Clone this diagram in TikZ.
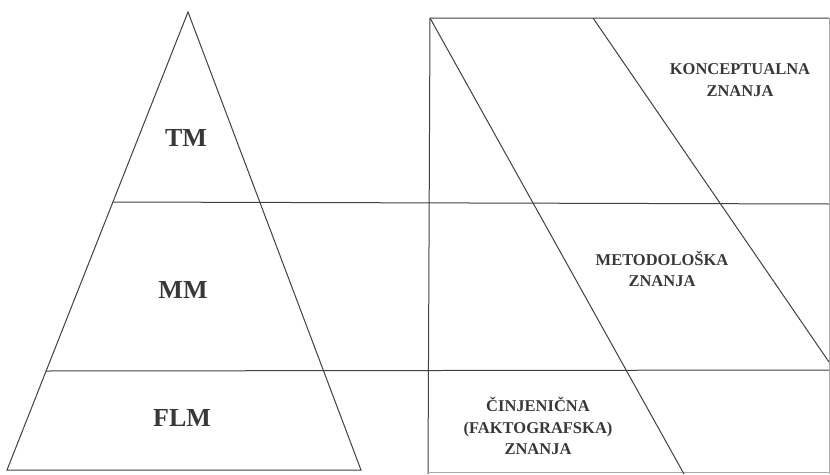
\documentclass[tikz,border=0pt]{standalone}
\usepackage{fontspec}
\setmainfont{Liberation Serif}
\definecolor{ink}{HTML}{404040}
\definecolor{txt}{HTML}{383838}
\tikzset{
  ln/.style={draw=ink, line width=1pt},
  faint/.style={draw=ink!45, line width=0.8pt},
  big/.style={text=txt, font=\fontsize{26}{30}\selectfont\bfseries, inner sep=0pt},
  small/.style={text=txt, font=\fontsize{16.5}{21.5}\selectfont\bfseries, align=center, inner sep=0pt}
}
\begin{document}
\begin{tikzpicture}[x=1pt,y=-1pt]
\useasboundingbox (0,0) rectangle (830,474);
% pyramid
\coordinate (apex) at (188,12);
\coordinate (bl) at (7,470);
\coordinate (br) at (361,470);
\draw[ln] (apex) -- (br) -- (bl) -- cycle;
% horizontal levels
\coordinate (h1l) at (113,202);
\coordinate (h1r) at (829,204);
\coordinate (h2l) at (46,371);
\coordinate (h2r) at (829,370);
\draw[ln] (h1l) -- (h1r);
\draw[ln] (h2l) -- (h2r);
% box
\coordinate (tl) at (430,18);
\coordinate (tr) at (829,18);
\coordinate (blb) at (428,474);
\coordinate (brb) at (829,474);
\draw[ln] (blb) -- (tl) -- (tr);
\draw[faint] (tr) -- (brb);
\coordinate (bbl) at (428,472.5);
\coordinate (bbr) at (829,472.5);
\draw[faint] (bbl) -- (bbr);
% diagonals
\coordinate (d1e) at (684,474);
\coordinate (d2s) at (593,18);
\coordinate (d2e) at (829,362);
\draw[ln] (tl) -- (d1e);
\draw[ln] (d2s) -- (d2e);
% labels
\node[big] (tm) at (186,138) {TM};
\node[big] (mm) at (183,290) {MM};
\node[big] (flm) at (182,418) {FLM};
\node[small] (kon) at (740,80) {KONCEPTUALNA\\ZNANJA};
\node[small] (met) at (662,269) {METODOLOŠKA\\ZNANJA};
\node[small] (cin) at (538,426) {ČINJENIČNA\\(FAKTOGRAFSKA)\\ZNANJA};
\end{tikzpicture}
\end{document}
